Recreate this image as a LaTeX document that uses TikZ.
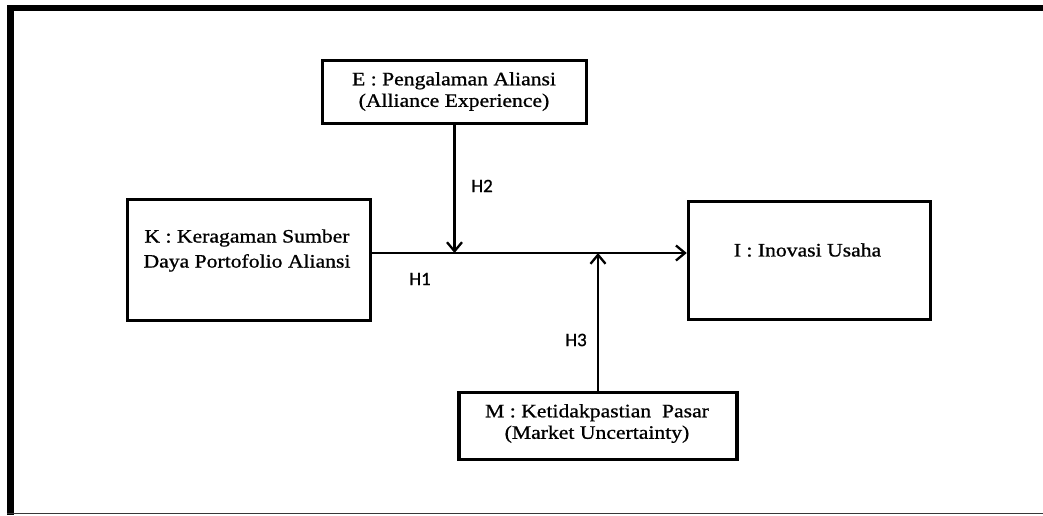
\documentclass[tikz,border=0pt]{standalone}
\usepackage{fontspec}
\setmainfont{Liberation Serif}[FakeStretch=1.14, FakeBold=0.9]
\newfontfamily\hfont{Carlito}[FakeBold=0.8]
\usetikzlibrary{arrows.meta}
\tikzset{
  box/.style={draw, line width=3.5pt, minimum width=#1, inner sep=0pt},
  txt/.style={inner sep=0pt, align=center, font=\fontsize{19}{21.5}\selectfont},
  hlab/.style={inner sep=0pt, font=\hfont\fontsize{19}{21}\selectfont},
  arr/.style={line width=2.3pt, -{Straight Barb[length=9pt,width=15pt,line width=2.3pt]}}
}
\begin{document}
\begin{tikzpicture}[x=1pt,y=-1pt]
\useasboundingbox (0,0) rectangle (1043,515);
% frame
\fill (7,5) rectangle (14,515);
\fill (7,5) rectangle (1043,11);
\draw[line width=1.6pt, black!78] (7,513.5) -- (1043,513.5);
% boxes
\node[box=243pt, minimum height=121pt] (K) at (249,260) {};
\node[box=264pt, minimum height=63pt] (E) at (454.5,92) {};
\node[box=242pt, minimum height=118pt] (I) at (809.5,260.5) {};
\node[box=278pt, minimum height=67pt] (M) at (598,426) {};
% texts
\node[txt, font=\fontsize{19}{25}\selectfont] (Kt) at (247,250.5) {K : Keragaman Sumber\\Daya Portofolio Aliansi};
\node[txt] (Et) at (454,91.5) {E : Pengalaman Aliansi\\(Alliance Experience)};
\node[txt] (It) at (807.5,250) {I : Inovasi Usaha};
\node[txt] (Mt) at (597,423.5) {M : Ketidakpastian\ \ Pasar\\(Market Uncertainty)};
% connectors
\coordinate (h) at (0,253);
\draw[arr] (K.east |- h) -- (I.west |- h);
\draw[arr] (E.south) -- (E.south |- h);
\draw[arr] (M.north) -- (M.north |- h);
% labels
\node[hlab] (H1) at (420,279) {H1};
\node[hlab] (H2) at (482,186) {H2};
\node[hlab] (H3) at (576,340) {H3};
\end{tikzpicture}
\end{document}
